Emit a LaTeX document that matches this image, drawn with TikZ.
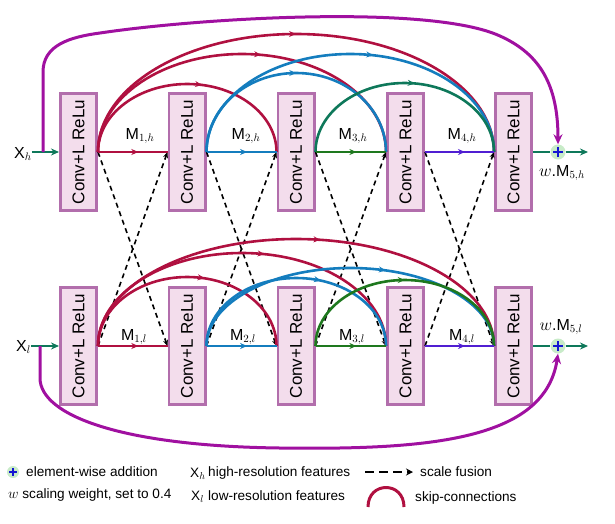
\documentclass[tikz,border=0pt]{standalone}
\usepackage{fontspec}
\setmainfont{Liberation Sans}
\usepackage{graphicx}
\usetikzlibrary{arrows.meta,calc,decorations.markings}
\definecolor{cred}{RGB}{176,16,64}
\definecolor{cblue}{RGB}{20,125,190}
\definecolor{cteal}{RGB}{14,120,90}
\definecolor{cgreen}{RGB}{30,120,30}
\definecolor{cviolet}{RGB}{80,30,210}
\definecolor{cmag}{RGB}{160,16,160}
\definecolor{boxfill}{RGB}{243,221,236}
\definecolor{boxdraw}{RGB}{178,110,172}
\definecolor{plusfill}{RGB}{200,235,200}
\definecolor{plusblue}{RGB}{20,20,210}
\tikzset{
 convbox/.style={draw=boxdraw, fill=boxfill, line width=2.6pt, minimum width=36.4pt, minimum height=117.4pt, inner sep=0pt, font=\fontsize{17}{17}\selectfont},
 midarrow/.style={postaction={decorate}, decoration={markings, mark=at position #1 with {\arrow{Stealth[length=7pt,width=6pt]}}}},
 skipline/.style={line width=2.6pt},
 fwd/.style={line width=2.4pt, midarrow=0.58},
 fusion/.style={black, line width=1.6pt, dash pattern=on 5pt off 4pt, -{Stealth[length=6pt,width=5pt]}},
 inout/.style={cteal, line width=2.6pt},
 magline/.style={cmag, line width=3pt, -{Stealth[length=10pt,width=9pt]}},
 plusnode/.style={circle, fill=plusfill, minimum size=#1, inner sep=0pt,
   path picture={\draw[plusblue, line width=2pt]
     ($(path picture bounding box.center)+(-0.32*#1,0)$) -- ($(path picture bounding box.center)+(0.32*#1,0)$)
     ($(path picture bounding box.center)+(0,-0.32*#1)$) -- ($(path picture bounding box.center)+(0,0.32*#1)$);}},
 mlabel/.style={font=\fontsize{16}{16}\selectfont, anchor=base, inner sep=0pt},
 xlabel/.style={font=\fontsize{16}{16}\selectfont, anchor=base west, inner sep=0pt},
 legend/.style={font=\fontsize{13.6}{13.6}\selectfont, anchor=west, inner sep=0pt},
}
\newcommand\skarc[5]{\draw[skipline,#4,midarrow=#5] let \p1=(#1), \p2=(#2) in (\p1) arc[start angle=180,end angle=0,x radius={(\x2-\x1)/2},y radius=#3pt];}
\begin{document}
\begin{tikzpicture}[x=1pt,y=-1pt]
\useasboundingbox (0,0) rectangle (615,523);
% boxes
\foreach \i/\x in {1/78.5,2/187,3/296,4/405.5,5/513.5} {
  \node[convbox] (bh\i) at (\x,152) {\rotatebox{90}{Conv+L ReLu}};
  \node[convbox] (bl\i) at (\x,346) {\rotatebox{90}{Conv+L ReLu}};
}
% plus nodes
\node[plusnode=15pt] (plush) at (558,152) {};
\node[plusnode=15pt] (plusl) at (558,346) {};
% inputs
\node[xlabel] (xh) at (14,158) {X$_h$};
\node[xlabel] (xl) at (16,351) {X$_l$};
\coordinate (brh) at (43,152);
\coordinate (brl) at (40,346);
\coordinate (outh) at (588,152);
\coordinate (outl) at (588,346);
% scale fusion
\foreach \i/\j in {1/2,2/3,3/4,4/5} {
  \draw[fusion] (bh\i.east) -- (bl\j.west);
  \draw[fusion] (bl\i.east) -- (bh\j.west);
}
% skip connections top
\skarc{bh1.east}{bh3.west}{68}{cred}{0.56}
\skarc{bh1.east}{bh4.west}{98}{cred}{0.55}
\skarc{bh1.east}{bh5.west}{118}{cred}{0.5}
\skarc{bh2.east}{bh4.west}{79}{cblue}{0.5}
\skarc{bh2.east}{bh5.west}{98}{cblue}{0.56}
\skarc{bh3.east}{bh5.west}{69}{cteal}{0.54}
% skip connections bottom
\skarc{bl1.east}{bl3.west}{69}{cred}{0.57}
\skarc{bl1.east}{bl4.west}{93}{cred}{0.56}
\skarc{bl1.east}{bl5.west}{107}{cred}{0.55}
\skarc{bl2.east}{bl4.west}{68}{cblue}{0.6}
\skarc{bl2.east}{bl5.west}{78}{cblue}{0.6}
\skarc{bl3.east}{bl5.west}{66}{cgreen}{0.5}
% forward lines
\draw[fwd,cred] (bh1.east) -- (bh2.west);
\draw[fwd,cblue] (bh2.east) -- (bh3.west);
\draw[fwd,cgreen] (bh3.east) -- (bh4.west);
\draw[fwd,cviolet] (bh4.east) -- (bh5.west);
\draw[fwd,cred] (bl1.east) -- (bl2.west);
\draw[fwd,cblue] (bl2.east) -- (bl3.west);
\draw[fwd,cgreen] (bl3.east) -- (bl4.west);
\draw[fwd,cviolet] (bl4.east) -- (bl5.west);
% labels
\node[mlabel] (m1h) at (140,139) {M$_{1,h}$};
\node[mlabel] (m2h) at (246,139) {M$_{2,h}$};
\node[mlabel] (m3h) at (353,139) {M$_{3,h}$};
\node[mlabel] (m4h) at (462,139) {M$_{4,h}$};
\node[mlabel] (m1l) at (134,340) {M$_{1,l}$};
\node[mlabel] (m2l) at (243,340) {M$_{2,l}$};
\node[mlabel] (m3l) at (352,340) {M$_{3,l}$};
\node[mlabel] (m4l) at (462,340) {M$_{4,l}$};
\node[mlabel] (m5h) at (562,176) {$w$.M$_{5,h}$};
\node[mlabel] (m5l) at (561,330) {$w$.M$_{5,l}$};
% inputs / outputs
\draw[inout,-{Stealth[length=8pt,width=7pt]}] (xh.east |- bh1.west) -- (bh1.west);
\draw[inout,-{Stealth[length=8pt,width=7pt]}] (xl.east |- bl1.west) -- (bl1.west);
\draw[inout] (bh5.east) -- (plush.west);
\draw[inout] (bl5.east) -- (plusl.west);
\draw[inout,-{Stealth[length=8pt,width=7pt]}] (plush.east) -- (outh);
\draw[inout,-{Stealth[length=8pt,width=7pt]}] (plusl.east) -- (outl);
% magenta long connections
\draw[magline] (brh) -- (43,72) .. controls (43,45) and (70,37) .. (100,33)
   .. controls (200,18) and (430,4) .. (500,36) .. controls (540,54) and (558,85) .. (plush.north);
\draw[magline] (brl) -- (40,378) .. controls (40,415) and (120,446) .. (280,448)
   .. controls (430,450) and (545,440) .. (plusl.south);
% legend
\node[plusnode=12pt] (lplus) at (13,472) {};
\node[legend] (lt1) at (26,472) {element-wise addition};
\node[legend] (lt2) at (8,495) {$w$ scaling weight, set to 0.4};
\node[legend] (lxh) at (190,474) {X$_h$};
\node[legend] (lt3) at (208,473) {high-resolution features};
\node[legend] (lxl) at (191,497) {X$_l$};
\node[legend] (lt4) at (208,496) {low-resolution features};
\coordinate (ld1) at (365,472);
\coordinate (ld2) at (413,472);
\draw[black, line width=2pt, dash pattern=on 9pt off 5pt, -{Stealth[length=7pt,width=7pt]}] (ld1) -- (ld2);
\node[legend] (lt5) at (420,472) {scale fusion};
\coordinate (ls1) at (368,507);
\coordinate (ls2) at (404,507);
\draw[skipline,cred,line width=3pt] (ls1) .. controls (368,481) and (404,481) .. (ls2);
\node[legend] (lt6) at (415,498) {skip-connections};
\end{tikzpicture}
\end{document}
